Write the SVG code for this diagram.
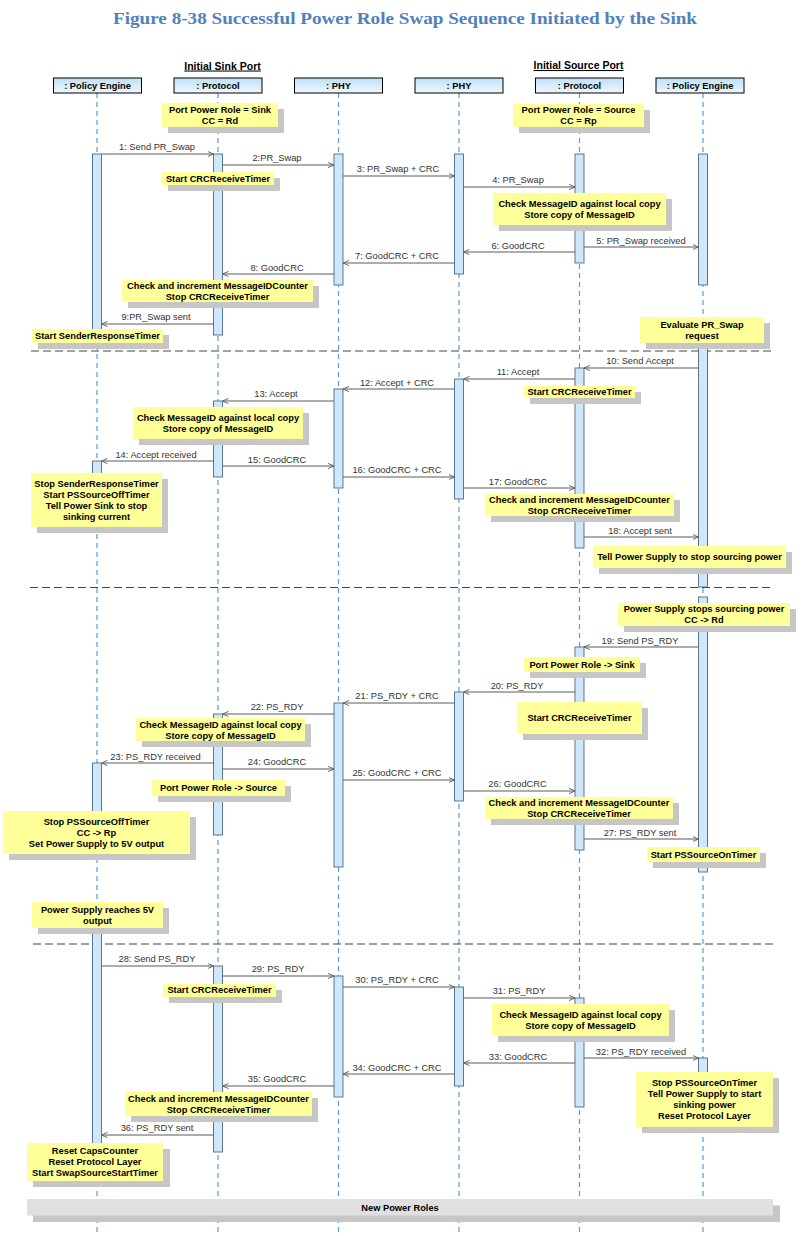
<svg xmlns="http://www.w3.org/2000/svg" width="804" height="1236" viewBox="0 0 804 1236">
<style>
.title{font-family:"Liberation Serif","Times New Roman",serif;font-weight:bold;font-size:16px;fill:#4F81BD;text-anchor:middle}
.port{font-family:"Liberation Sans",Arial,sans-serif;font-weight:bold;font-size:10.5px;fill:#000;text-anchor:middle;text-decoration:underline}
.hd{fill:url(#hg);stroke:#000;stroke-width:1}
.hdt{font-family:"Liberation Sans",Arial,sans-serif;font-weight:bold;font-size:9.3px;fill:#000;text-anchor:middle}
.life{stroke:#5b9bd5;stroke-width:1.2;stroke-dasharray:5 4;fill:none}
.bar{fill:#cfe7fa;stroke:#4d6a85;stroke-width:0.9}
.msg{stroke:#5a5a5a;stroke-width:1;fill:none;marker-end:url(#arr)}
.lbl{font-family:"Liberation Sans",Arial,sans-serif;font-size:9.3px;fill:#333;text-anchor:middle}
.shd{fill:#c6c6c6}
.note{fill:#ffff99}
.nt{font-family:"Liberation Sans",Arial,sans-serif;font-weight:bold;font-size:9.3px;fill:#000;text-anchor:middle}
.sep{stroke:#444;stroke-width:1.2;stroke-dasharray:8 4;fill:none}
.band{fill:#e0e0e0}
</style>
<defs>
<linearGradient id="hg" x1="0" y1="0" x2="0" y2="1">
<stop offset="0" stop-color="#bfe0f7"/>
<stop offset="1" stop-color="#eef7fd"/>
</linearGradient>
<marker id="arr" viewBox="0 0 6 6" markerWidth="6" markerHeight="6" refX="6" refY="3" orient="auto" markerUnits="userSpaceOnUse">
<path d="M0,0.4 L6,3 L0,5.6" fill="none" stroke="#5a5a5a" stroke-width="0.9"/>
</marker>
</defs>
<rect width="804" height="1236" fill="#fff"/>
<text class="title" x="405" y="23.5" textLength="584" lengthAdjust="spacingAndGlyphs">Figure 8-38 Successful Power Role Swap Sequence Initiated by the Sink</text>
<text class="port" x="222.5" y="69.5">Initial Sink Port</text>
<text class="port" x="578.5" y="69">Initial Source Port</text>

<g id="lifelines">
<g id="sink_pe"><line class="life" x1="97" y1="93" x2="97" y2="1236"/><rect class="hd" x="53.5" y="78" width="88" height="15"/><text class="hdt" x="97.5" y="89">: Policy Engine</text></g>
<g id="sink_protocol"><line class="life" x1="218" y1="93" x2="218" y2="1236"/><rect class="hd" x="174" y="78" width="88" height="15"/><text class="hdt" x="218" y="89">: Protocol</text></g>
<g id="sink_phy"><line class="life" x1="338.5" y1="93" x2="338.5" y2="1236"/><rect class="hd" x="294.5" y="78" width="88" height="15"/><text class="hdt" x="338.5" y="89">: PHY</text></g>
<g id="src_phy"><line class="life" x1="459" y1="93" x2="459" y2="1236"/><rect class="hd" x="415" y="78" width="88" height="15"/><text class="hdt" x="459" y="89">: PHY</text></g>
<g id="src_protocol"><line class="life" x1="579.5" y1="93" x2="579.5" y2="1236"/><rect class="hd" x="535.5" y="78" width="88" height="15"/><text class="hdt" x="579.5" y="89">: Protocol</text></g>
<g id="src_pe"><line class="life" x1="703" y1="93" x2="703" y2="1236"/><rect class="hd" x="656" y="78" width="88" height="15"/><text class="hdt" x="700" y="89">: Policy Engine</text></g>
</g>

<g id="separators">
<line class="sep" x1="31" y1="351" x2="773" y2="351"/>
<line class="sep" x1="30" y1="587.5" x2="773" y2="587.5"/>
<line class="sep" x1="33" y1="944" x2="775" y2="944"/>
</g>

<g id="activations">
<rect class="bar" x="92.5" y="154" width="9" height="179"/>
<rect class="bar" x="92.5" y="461" width="9" height="19"/>
<rect class="bar" x="92.5" y="763" width="9" height="49"/>
<rect class="bar" x="92.5" y="910" width="9" height="250"/>
<rect class="bar" x="213.5" y="154" width="9" height="181"/>
<rect class="bar" x="213.5" y="401" width="9" height="76"/>
<rect class="bar" x="213.5" y="714" width="9" height="121"/>
<rect class="bar" x="213.5" y="966" width="9" height="186"/>
<rect class="bar" x="334" y="154" width="9" height="131"/>
<rect class="bar" x="334" y="389" width="9" height="99"/>
<rect class="bar" x="334" y="703" width="9" height="164"/>
<rect class="bar" x="334" y="976" width="9" height="121"/>
<rect class="bar" x="454.5" y="154" width="9" height="120"/>
<rect class="bar" x="454.5" y="379" width="9" height="120"/>
<rect class="bar" x="454.5" y="692" width="9" height="109"/>
<rect class="bar" x="454.5" y="987" width="9" height="99"/>
<rect class="bar" x="575" y="154" width="9" height="109"/>
<rect class="bar" x="575" y="368" width="9" height="180"/>
<rect class="bar" x="575" y="647" width="9" height="203"/>
<rect class="bar" x="575" y="998" width="9" height="109"/>
<rect class="bar" x="698.5" y="154" width="9" height="131"/>
<rect class="bar" x="698.5" y="322" width="9" height="265"/>
<rect class="bar" x="698.5" y="597" width="9" height="275"/>
<rect class="bar" x="698.5" y="1058" width="9" height="22"/>
</g>

<g id="connectors">
<line class="msg" x1="101.5" y1="154" x2="213.5" y2="154"/><text class="lbl" x="157" y="150">1: Send PR_Swap</text>
<line class="msg" x1="222.5" y1="165" x2="334" y2="165"/><text class="lbl" x="277" y="161">2:PR_Swap</text>
<line class="msg" x1="343" y1="176" x2="454.5" y2="176"/><text class="lbl" x="398" y="172">3: PR_Swap + CRC</text>
<line class="msg" x1="463.5" y1="187" x2="575" y2="187"/><text class="lbl" x="518" y="183">4: PR_Swap</text>
<line class="msg" x1="584" y1="247" x2="698.5" y2="247"/><text class="lbl" x="641" y="243.5">5: PR_Swap received</text>
<line class="msg" x1="575" y1="252" x2="463.5" y2="252"/><text class="lbl" x="518" y="249">6: GoodCRC</text>
<line class="msg" x1="454.5" y1="263" x2="343" y2="263"/><text class="lbl" x="397" y="259">7: GoodCRC + CRC</text>
<line class="msg" x1="334" y1="274" x2="222.5" y2="274"/><text class="lbl" x="277" y="270.5">8: GoodCRC</text>
<line class="msg" x1="213.5" y1="324" x2="101.5" y2="324"/><text class="lbl" x="156" y="320">9:PR_Swap sent</text>
<line class="msg" x1="698.5" y1="368" x2="584" y2="368"/><text class="lbl" x="640" y="364">10: Send Accept</text>
<line class="msg" x1="575" y1="379" x2="463.5" y2="379"/><text class="lbl" x="518" y="375">11: Accept</text>
<line class="msg" x1="454.5" y1="389" x2="343" y2="389"/><text class="lbl" x="397" y="385.5">12: Accept + CRC</text>
<line class="msg" x1="334" y1="401" x2="222.5" y2="401"/><text class="lbl" x="276" y="397">13: Accept</text>
<line class="msg" x1="213.5" y1="461" x2="101.5" y2="461"/><text class="lbl" x="156" y="457.5">14: Accept received</text>
<line class="msg" x1="222.5" y1="466" x2="334" y2="466"/><text class="lbl" x="277" y="462.5">15: GoodCRC</text>
<line class="msg" x1="343" y1="477" x2="454.5" y2="477"/><text class="lbl" x="397" y="473">16: GoodCRC + CRC</text>
<line class="msg" x1="463.5" y1="488" x2="575" y2="488"/><text class="lbl" x="518" y="484.5">17: GoodCRC</text>
<line class="msg" x1="584" y1="537" x2="698.5" y2="537"/><text class="lbl" x="640" y="534">18: Accept sent</text>
<line class="msg" x1="698.5" y1="647" x2="584" y2="647"/><text class="lbl" x="640" y="644">19: Send PS_RDY</text>
<line class="msg" x1="575" y1="692" x2="463.5" y2="692"/><text class="lbl" x="517" y="688.5">20: PS_RDY</text>
<line class="msg" x1="454.5" y1="703" x2="343" y2="703"/><text class="lbl" x="397" y="699">21: PS_RDY + CRC</text>
<line class="msg" x1="334" y1="714" x2="222.5" y2="714"/><text class="lbl" x="277" y="710">22: PS_RDY</text>
<line class="msg" x1="213.5" y1="763" x2="101.5" y2="763"/><text class="lbl" x="155.5" y="759.5">23: PS_RDY received</text>
<line class="msg" x1="222.5" y1="769" x2="334" y2="769"/><text class="lbl" x="277" y="765">24: GoodCRC</text>
<line class="msg" x1="343" y1="780" x2="454.5" y2="780"/><text class="lbl" x="397" y="776">25: GoodCRC + CRC</text>
<line class="msg" x1="463.5" y1="791" x2="575" y2="791"/><text class="lbl" x="517.5" y="787">26: GoodCRC</text>
<line class="msg" x1="584" y1="839" x2="698.5" y2="839"/><text class="lbl" x="640" y="836">27: PS_RDY sent</text>
<line class="msg" x1="101.5" y1="966" x2="213.5" y2="966"/><text class="lbl" x="157" y="962">28: Send PS_RDY</text>
<line class="msg" x1="222.5" y1="976" x2="334" y2="976"/><text class="lbl" x="278" y="972">29: PS_RDY</text>
<line class="msg" x1="343" y1="987" x2="454.5" y2="987"/><text class="lbl" x="397" y="982.5">30: PS_RDY + CRC</text>
<line class="msg" x1="463.5" y1="998" x2="575" y2="998"/><text class="lbl" x="519" y="994">31: PS_RDY</text>
<line class="msg" x1="584" y1="1058" x2="698.5" y2="1058"/><text class="lbl" x="641" y="1054.5">32: PS_RDY received</text>
<line class="msg" x1="575" y1="1063" x2="463.5" y2="1063"/><text class="lbl" x="518" y="1060">33: GoodCRC</text>
<line class="msg" x1="454.5" y1="1074" x2="343" y2="1074"/><text class="lbl" x="397" y="1070.5">34: GoodCRC + CRC</text>
<line class="msg" x1="334" y1="1086" x2="222.5" y2="1086"/><text class="lbl" x="277" y="1082">35: GoodCRC</text>
<line class="msg" x1="213.5" y1="1135" x2="101.5" y2="1135"/><text class="lbl" x="157" y="1131">36: PS_RDY sent</text>
</g>

<g id="notes">
<g id="n1"><rect class="shd" x="168" y="109" width="116" height="24"/><rect class="note" x="162" y="103" width="116" height="24"/><text class="nt" x="220" y="112.8">Port Power Role = Sink</text><text class="nt" x="220" y="123.8">CC = Rd</text></g>
<g id="n2"><rect class="shd" x="519" y="110" width="131" height="23"/><rect class="note" x="513" y="104" width="131" height="23"/><text class="nt" x="578.5" y="113.3">Port Power Role = Source</text><text class="nt" x="578.5" y="124.3">CC = Rp</text></g>
<g id="n3"><rect class="shd" x="168" y="178" width="112" height="13"/><rect class="note" x="162" y="172" width="112" height="13"/><text class="nt" x="218" y="181.5">Start CRCReceiveTimer</text></g>
<g id="n4"><rect class="shd" x="499" y="199" width="173" height="32"/><rect class="note" x="493" y="193" width="173" height="32"/><text class="nt" x="579.5" y="206.8">Check MessageID against local copy</text><text class="nt" x="579.5" y="217.8">Store copy of MessageID</text></g>
<g id="n5"><rect class="shd" x="128" y="286" width="191" height="22"/><rect class="note" x="122" y="280" width="191" height="22"/><text class="nt" x="217.5" y="288.8">Check and increment MessageIDCounter</text><text class="nt" x="217.5" y="299.8">Stop CRCReceiveTimer</text></g>
<g id="n6"><rect class="shd" x="38" y="335" width="131" height="14"/><rect class="note" x="32" y="329" width="131" height="14"/><text class="nt" x="97.5" y="339.3">Start SenderResponseTimer</text></g>
<g id="n7"><rect class="shd" x="646" y="323" width="124" height="26"/><rect class="note" x="640" y="317" width="124" height="26"/><text class="nt" x="702" y="328">Evaluate PR_Swap</text><text class="nt" x="702" y="339">request</text></g>
<g id="n8"><rect class="shd" x="530" y="392" width="111" height="12"/><rect class="note" x="524" y="386" width="111" height="12"/><text class="nt" x="579.5" y="395">Start CRCReceiveTimer</text></g>
<g id="n9"><rect class="shd" x="139" y="413" width="170" height="32"/><rect class="note" x="133" y="407" width="170" height="32"/><text class="nt" x="218" y="420.5">Check MessageID against local copy</text><text class="nt" x="218" y="431.5">Store copy of MessageID</text></g>
<g id="n10"><rect class="shd" x="37" y="479" width="131" height="54"/><rect class="note" x="31" y="473" width="131" height="54"/><text class="nt" x="96.5" y="486.8">Stop SenderResponseTimer</text><text class="nt" x="96.5" y="497.8">Start PSSourceOffTimer</text><text class="nt" x="96.5" y="508.8">Tell Power Sink to stop</text><text class="nt" x="96.5" y="519.8">sinking current</text></g>
<g id="n11"><rect class="shd" x="491" y="500" width="189" height="22"/><rect class="note" x="485" y="494" width="189" height="22"/><text class="nt" x="579.5" y="502.5">Check and increment MessageIDCounter</text><text class="nt" x="579.5" y="513.5">Stop CRCReceiveTimer</text></g>
<g id="n12"><rect class="shd" x="599" y="552" width="193" height="22"/><rect class="note" x="593" y="546" width="193" height="22"/><text class="nt" x="689.5" y="560.3">Tell Power Supply to stop sourcing power</text></g>
<g id="n13"><rect class="shd" x="624" y="609" width="172" height="23"/><rect class="note" x="618" y="603" width="172" height="23"/><text class="nt" x="704" y="612.3">Power Supply stops sourcing power</text><text class="nt" x="704" y="623.3">CC -&gt; Rd</text></g>
<g id="n14"><rect class="shd" x="530" y="663" width="116" height="15"/><rect class="note" x="524" y="657" width="116" height="15"/><text class="nt" x="582" y="667.5">Port Power Role -&gt; Sink</text></g>
<g id="n15"><rect class="shd" x="523" y="708" width="125" height="32"/><rect class="note" x="517" y="702" width="125" height="32"/><text class="nt" x="579.5" y="721.3">Start CRCReceiveTimer</text></g>
<g id="n16"><rect class="shd" x="142" y="724" width="169" height="23"/><rect class="note" x="136" y="718" width="169" height="23"/><text class="nt" x="220.5" y="727.5">Check MessageID against local copy</text><text class="nt" x="220.5" y="738.5">Store copy of MessageID</text></g>
<g id="n17"><rect class="shd" x="158" y="786" width="133" height="16"/><rect class="note" x="152" y="780" width="133" height="16"/><text class="nt" x="218.5" y="791.2">Port Power Role -&gt; Source</text></g>
<g id="n18"><rect class="shd" x="491" y="803" width="188" height="22"/><rect class="note" x="485" y="797" width="188" height="22"/><text class="nt" x="579" y="805.7">Check and increment MessageIDCounter</text><text class="nt" x="579" y="816.5">Stop CRCReceiveTimer</text></g>
<g id="n19"><rect class="shd" x="9" y="817" width="187" height="43"/><rect class="note" x="3" y="811" width="187" height="43"/><text class="nt" x="96.5" y="824.5">Stop PSSourceOffTimer</text><text class="nt" x="96.5" y="835.5">CC -&gt; Rp</text><text class="nt" x="96.5" y="846.5">Set Power Supply to 5V output</text></g>
<g id="n20"><rect class="shd" x="653" y="853" width="113" height="15"/><rect class="note" x="647" y="847" width="113" height="15"/><text class="nt" x="703.5" y="858.3">Start PSSourceOnTimer</text></g>
<g id="n21"><rect class="shd" x="38" y="908" width="131" height="26"/><rect class="note" x="32" y="902" width="131" height="26"/><text class="nt" x="97.5" y="913">Power Supply reaches 5V</text><text class="nt" x="97.5" y="924">output</text></g>
<g id="n22"><rect class="shd" x="169" y="990" width="113" height="13"/><rect class="note" x="163" y="984" width="113" height="13"/><text class="nt" x="219.5" y="993.3">Start CRCReceiveTimer</text></g>
<g id="n23"><rect class="shd" x="498" y="1010" width="177" height="32"/><rect class="note" x="492" y="1004" width="177" height="32"/><text class="nt" x="580.5" y="1017.7">Check MessageID against local copy</text><text class="nt" x="580.5" y="1028.5">Store copy of MessageID</text></g>
<g id="n24"><rect class="shd" x="642" y="1078" width="137" height="55"/><rect class="note" x="636" y="1072" width="137" height="55"/><text class="nt" x="704.5" y="1086">Stop PSSourceOnTimer</text><text class="nt" x="704.5" y="1097">Tell Power Supply to start</text><text class="nt" x="704.5" y="1108.3">sinking power</text><text class="nt" x="704.5" y="1119.3">Reset Protocol Layer</text></g>
<g id="n25"><rect class="shd" x="131" y="1098" width="187" height="24"/><rect class="note" x="125" y="1092" width="187" height="24"/><text class="nt" x="218.5" y="1101.7">Check and increment MessageIDCounter</text><text class="nt" x="218.5" y="1112.5">Stop CRCReceiveTimer</text></g>
<g id="n26"><rect class="shd" x="33" y="1149" width="137" height="38"/><rect class="note" x="27" y="1143" width="136" height="38"/><text class="nt" x="95" y="1154.3">Reset CapsCounter</text><text class="nt" x="95" y="1165.3">Reset Protocol Layer</text><text class="nt" x="95" y="1176.3">Start SwapSourceStartTimer</text></g>
</g>

<g id="new_power_roles">
<rect class="shd" x="33" y="1205.5" width="747" height="16.5"/>
<rect class="band" x="27" y="1199" width="746" height="16.5"/>
<text class="nt" x="400" y="1210.5">New Power Roles</text>
</g>
</svg>
